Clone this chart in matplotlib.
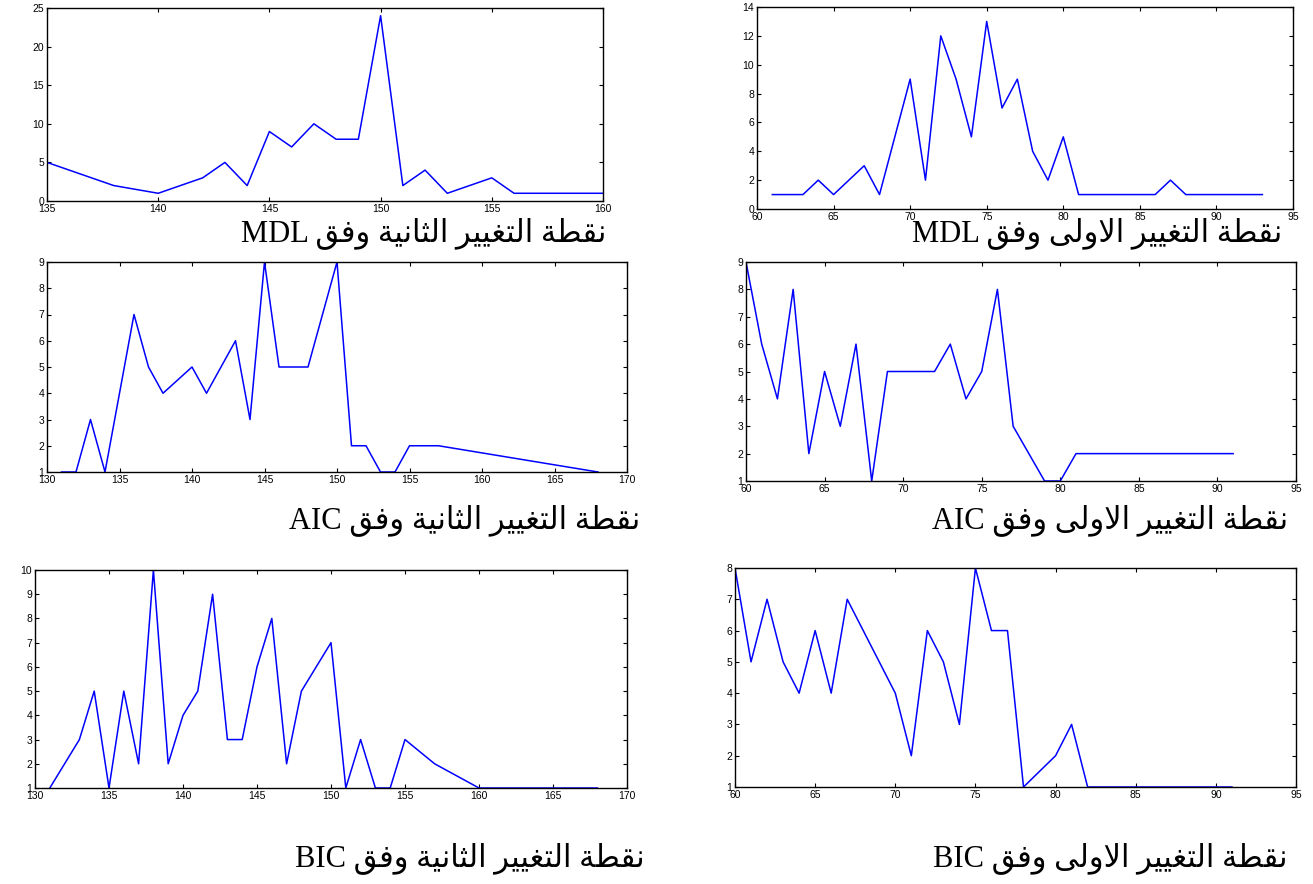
import matplotlib
matplotlib.use("Agg")
import matplotlib.pyplot as plt

# MDL, second change point
mdl2_x = [135, 138, 140, 142, 143, 144, 145, 146, 147, 148, 149, 150, 151, 152, 153, 155, 156, 160]
mdl2_y = [5, 2, 1, 3, 5, 2, 9, 7, 10, 8, 8, 24, 2, 4, 1, 3, 1, 1]

# MDL, first change point
mdl1_x = [61, 63, 64, 65, 66, 67, 68, 69, 70, 71, 72, 73, 74, 75, 76, 77, 78, 79, 80, 81, 86, 87, 88, 93]
mdl1_y = [1, 1, 2, 1, 2, 3, 1, 5, 9, 2, 12, 9, 5, 13, 7, 9, 4, 2, 5, 1, 1, 2, 1, 1]

# AIC, second change point
aic2_x = [131, 132, 133, 134, 136, 137, 138, 140, 141, 143, 144, 145, 146, 148, 150, 151, 152, 153, 154, 155, 157, 168]
aic2_y = [1, 1, 3, 1, 7, 5, 4, 5, 4, 6, 3, 9, 5, 5, 9, 2, 2, 1, 1, 2, 2, 1]

# AIC, first change point
aic1_x = [60, 61, 62, 63, 64, 65, 66, 67, 68, 69, 72, 73, 74, 75, 76, 77, 78, 79, 80, 81, 91]
aic1_y = [9, 6, 4, 8, 2, 5, 3, 6, 1, 5, 5, 6, 4, 5, 8, 3, 2, 1, 1, 2, 2]

# BIC, second change point
bic2_x = [131, 133, 134, 135, 136, 137, 138, 139, 140, 141, 142, 143, 144, 145, 146, 147, 148, 150,
          151, 152, 153, 154, 155, 157, 160, 168]
bic2_y = [1, 3, 5, 1, 5, 2, 10, 2, 4, 5, 9, 3, 3, 6, 8, 2, 5, 7, 1, 3, 1, 1, 3, 2, 1, 1]

# BIC, first change point
bic1_x = [60, 61, 62, 63, 64, 65, 66, 67, 70, 71, 72, 73, 74, 75, 76, 77, 78, 80, 81, 82, 91]
bic1_y = [8, 5, 7, 5, 4, 6, 4, 7, 4, 2, 6, 5, 3, 8, 6, 6, 1, 2, 3, 1, 1]

captions = [
    ("نقطة التغيير الثانية وفق", "MDL"),
    ("نقطة التغيير الاولى وفق", "MDL"),
    ("نقطة التغيير الثانية وفق", "AIC"),
    ("نقطة التغيير الاولى وفق", "AIC"),
    ("نقطة التغيير الثانية وفق", "BIC"),
    ("نقطة التغيير الاولى وفق", "BIC"),
]

# matplotlib has no Arabic shaping, so pick presentation forms by hand
FORMS = {
    "ا": ("\uFE8D", "\uFE8E", None, None),
    "ت": ("\uFE95", "\uFE96", "\uFE97", "\uFE98"),
    "ة": ("\uFE93", "\uFE94", None, None),
    "ث": ("\uFE99", "\uFE9A", "\uFE9B", "\uFE9C"),
    "ر": ("\uFEAD", "\uFEAE", None, None),
    "ط": ("\uFEC1", "\uFEC2", "\uFEC3", "\uFEC4"),
    "غ": ("\uFECD", "\uFECE", "\uFECF", "\uFED0"),
    "ف": ("\uFED1", "\uFED2", "\uFED3", "\uFED4"),
    "ق": ("\uFED5", "\uFED6", "\uFED7", "\uFED8"),
    "ل": ("\uFEDD", "\uFEDE", "\uFEDF", "\uFEE0"),
    "ن": ("\uFEE5", "\uFEE6", "\uFEE7", "\uFEE8"),
    "و": ("\uFEED", "\uFEEE", None, None),
    "ى": ("\uFEEF", "\uFEF0", None, None),
    "ي": ("\uFEF1", "\uFEF2", "\uFEF3", "\uFEF4"),
}


def shape(text):
    tokens = []
    i = 0
    while i < len(text):
        if text[i] == "ل" and i + 1 < len(text) and text[i + 1] == "ا":
            tokens.append("LA")
            i += 2
        else:
            tokens.append(text[i])
            i += 1
    out = []
    for j, t in enumerate(tokens):
        prev = tokens[j - 1] if j > 0 else None
        nxt = tokens[j + 1] if j + 1 < len(tokens) else None
        joins_prev = prev in FORMS and FORMS[prev][2] is not None
        if t == "LA":
            out.append("\uFEFC" if joins_prev else "\uFEFB")
            continue
        if t not in FORMS:
            out.append(t)
            continue
        iso, fin, ini, med = FORMS[t]
        joins_next = ini is not None and (nxt in FORMS or nxt == "LA")
        if joins_prev and joins_next:
            out.append(med)
        elif joins_prev:
            out.append(fin)
        elif joins_next:
            out.append(ini)
        else:
            out.append(iso)
    return "".join(out)[::-1]


plt.rcParams["font.family"] = ["Liberation Sans", "DejaVu Sans"]

fig = plt.figure(figsize=(13.13, 8.84), dpi=100)
W, H = 1313, 884

# (left, top, right, bottom) in pixels
boxes = [
    (47, 8, 603, 201),
    (757, 7, 1293, 209),
    (47, 262, 627, 472),
    (746, 262, 1296, 481),
    (35, 570, 627, 788),
    (735, 568, 1296, 787),
]
series = [(mdl2_x, mdl2_y), (mdl1_x, mdl1_y), (aic2_x, aic2_y),
          (aic1_x, aic1_y), (bic2_x, bic2_y), (bic1_x, bic1_y)]
xlims = [(135, 160), (60, 95), (130, 170), (60, 95), (130, 170), (60, 95)]
ylims = [(0, 25), (0, 14), (1, 9), (1, 9), (1, 10), (1, 8)]
ysteps = [5, 2, 1, 1, 1, 1]

for (l, t, r, b), (xs, ys), xl, yl, ys_step in zip(boxes, series, xlims, ylims, ysteps):
    ax = fig.add_axes([l / W, 1 - b / H, (r - l) / W, (b - t) / H])
    ax.plot(xs, ys, color="#0000ff", lw=1.1)
    ax.set_xlim(*xl)
    ax.set_ylim(*yl)
    ax.set_xticks(range(xl[0], xl[1] + 1, 5))
    ax.set_yticks(range(yl[0], yl[1] + 1, ys_step))
    ax.tick_params(direction="in", top=True, right=True, labelsize=7.5,
                   length=3, width=0.8, pad=2)
    for s in ax.spines.values():
        s.set_linewidth(1.0)

cap_pos = [(424, 233), (1097, 233), (465, 520), (1110, 520), (470, 858), (1110, 858)]
for (ar, lat), (cx, cy) in zip(captions, cap_pos):
    fig.text(cx / W, 1 - cy / H, lat + " " + shape(ar), ha="center", va="center",
             fontsize=22, family=["Liberation Serif", "DejaVu Sans"])

fig.savefig("out.png", dpi=100)
